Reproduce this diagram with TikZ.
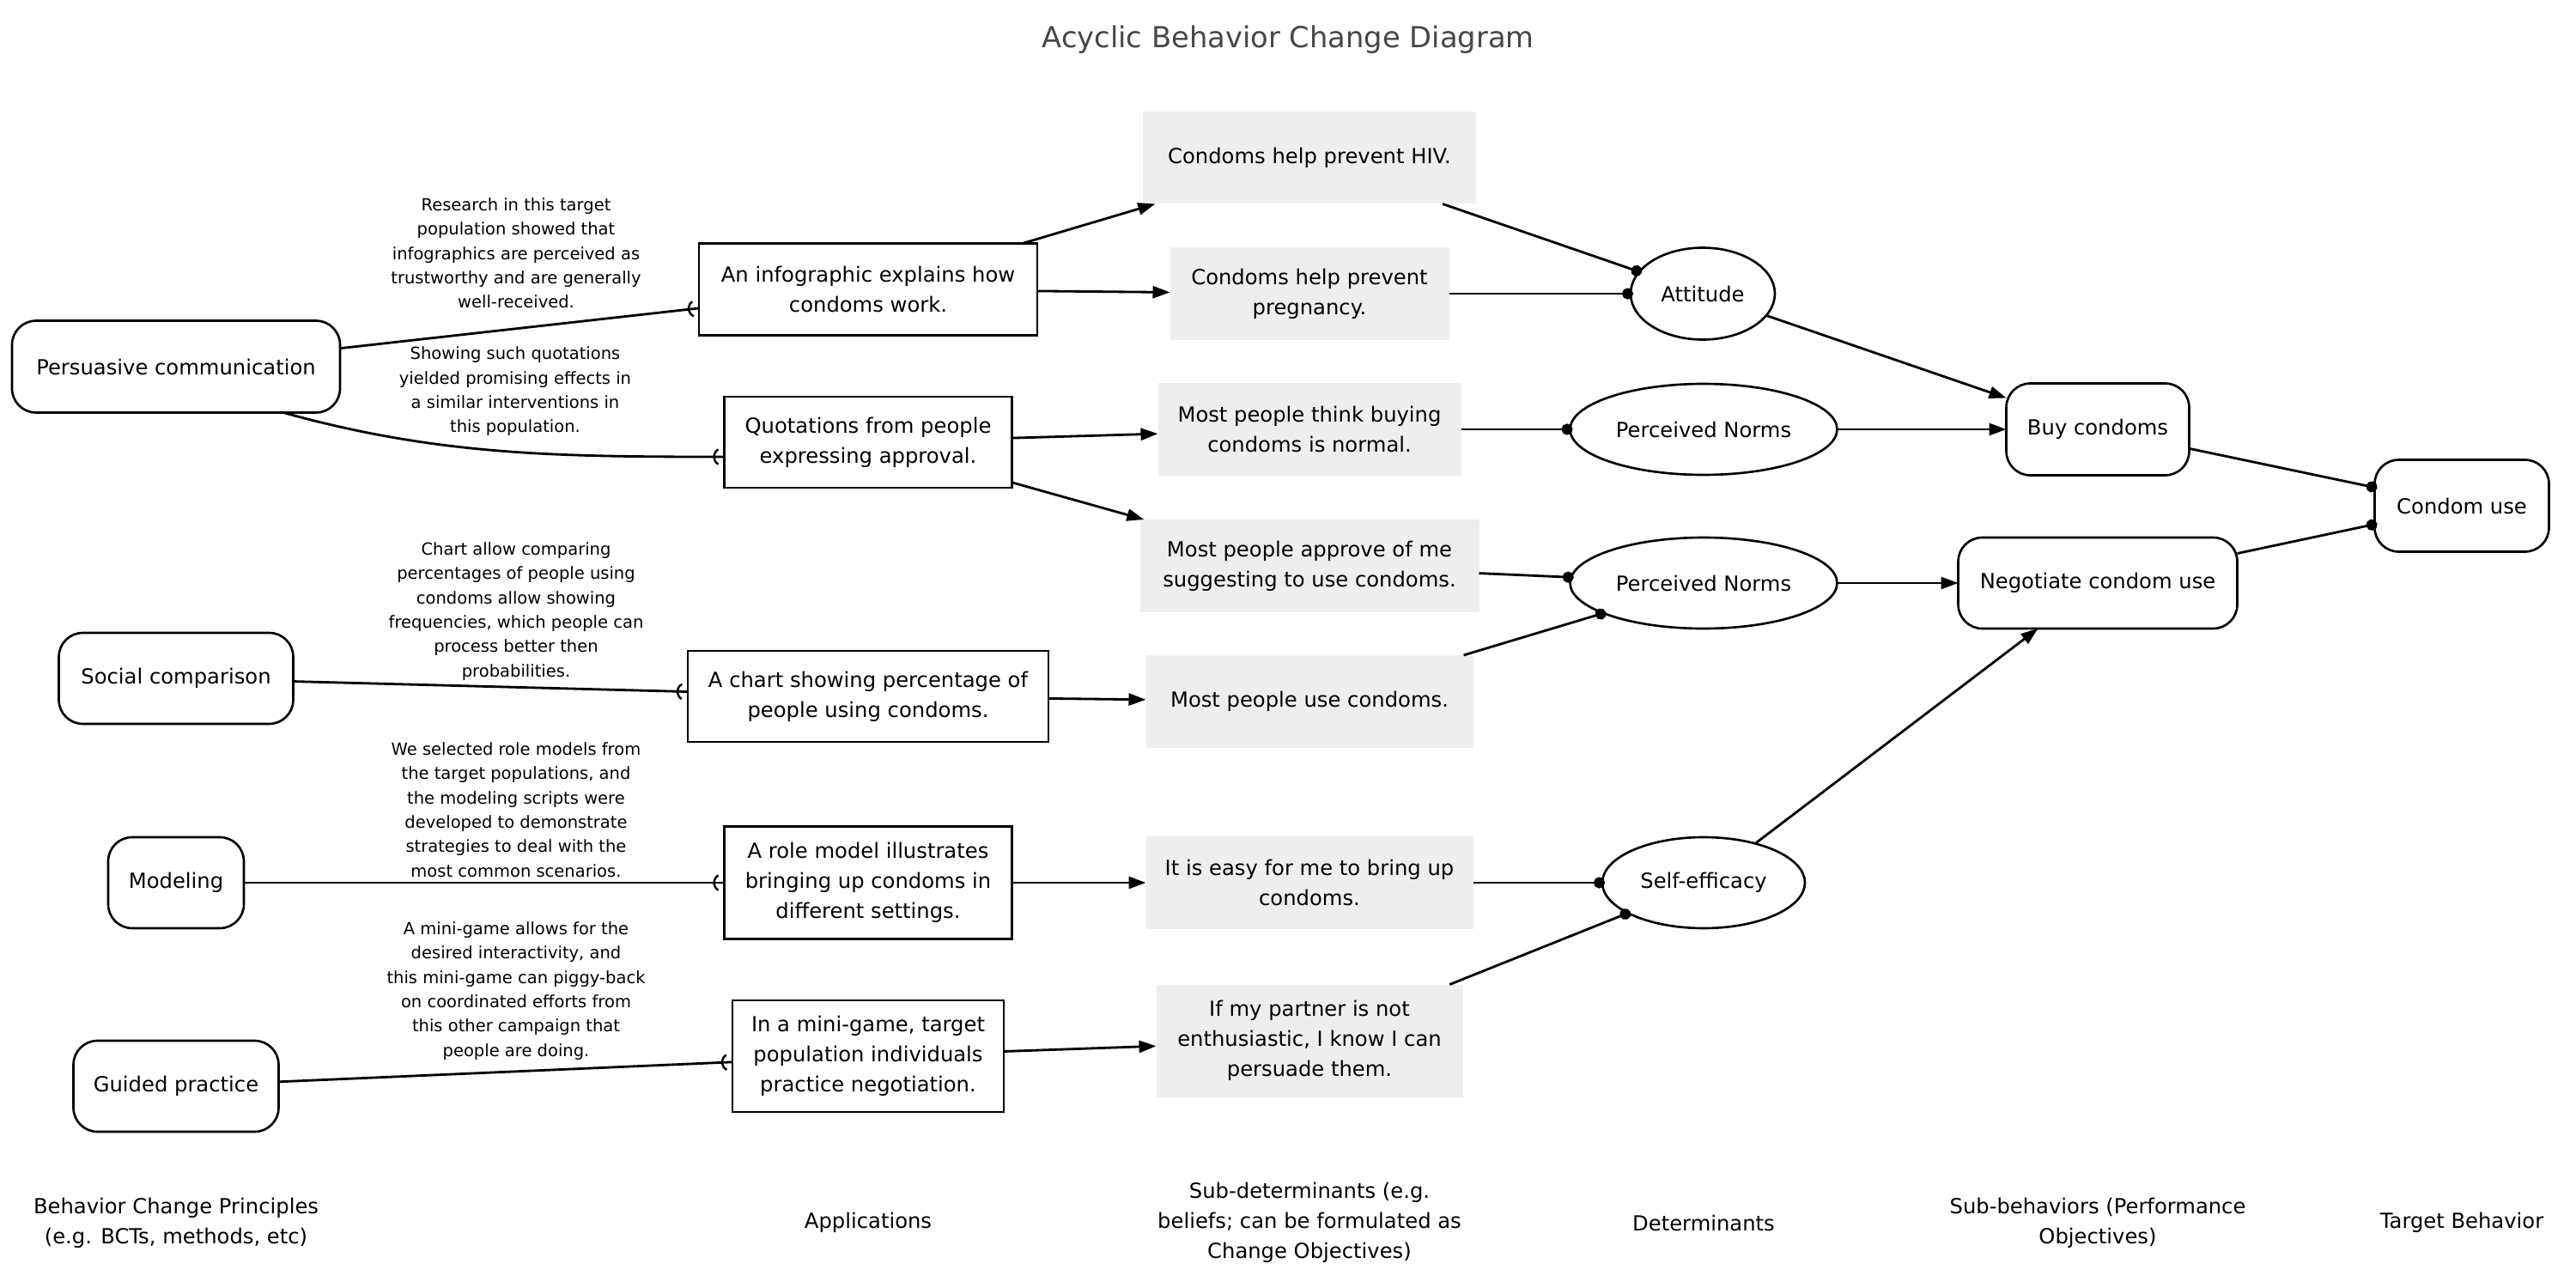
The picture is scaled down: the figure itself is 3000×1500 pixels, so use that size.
\documentclass[tikz,border=0pt]{standalone}
\usepackage{fontspec}
\setmainfont{DejaVu Sans}
\usetikzlibrary{arrows.meta,shapes.geometric,decorations.markings,calc}
\definecolor{subfill}{HTML}{EEEEEE}
\definecolor{titlegray}{HTML}{474747}
\newcommand\cbNodeFont{\fontsize{6.9pt}{9.96pt}\selectfont}
\newcommand\cbNoteFont{\fontsize{5.55pt}{8.05pt}\selectfont}
\newcommand\cbTitleFont{\fontsize{9.6pt}{11pt}\selectfont}
\begin{document}
\begin{tikzpicture}[x=0.1mm,y=-0.1mm,
  every node/.style={inner sep=0pt, outer sep=0pt, align=center, font=\cbNodeFont},
  principle/.style={draw, line width=0.75pt, rounded corners=2.8mm},
  appbox/.style={draw, line width=0.75pt, rectangle},
  subdet/.style={fill=subfill, rectangle},
  det/.style={ellipse, draw, line width=0.75pt},
  note/.style={font=\cbNoteFont},
  edge/.style={line width=0.8pt},
  arr/.style={edge, -{Triangle[length=2mm,width=1.4mm]}},
  dotend/.style={edge, -{Circle[length=1.3mm]}, shorten >=-0.3mm},
  curveend/.style={edge, decoration={markings, mark=at position -1mm with {\draw[line width=0.7pt] (0.3mm,0.866mm) arc[start angle=120,end angle=240,radius=1mm];}}, postaction={decorate}}
]
\fill[white] (0,0) rectangle (3000,1500);
\useasboundingbox (0,0) rectangle (3000,1500);

% title
\node[font=\cbTitleFont, text=titlegray, anchor=base] (title) at (1500,56) {Acyclic Behavior Change Diagram};

% behavior change principles
\node[principle, minimum width=38.2mm, minimum height=10.7mm] (pers) at (205,427) {Persuasive communication};
\node[principle, minimum width=27.3mm, minimum height=10.6mm] (soc) at (205,790) {Social comparison};
\node[principle, minimum width=15.8mm, minimum height=10.6mm] (mod) at (205,1028) {Modeling};
\node[principle, minimum width=23.9mm, minimum height=10.6mm] (gp) at (205,1265) {Guided practice};

% applications
\node[appbox, minimum width=39.4mm, minimum height=10.7mm] (info) at (1011,337) {An infographic explains how\\condoms work.};
\node[appbox, minimum width=33.5mm, minimum height=10.6mm] (quot) at (1011,515) {Quotations from people\\expressing approval.};
\node[appbox, minimum width=42.0mm, minimum height=10.6mm] (chart) at (1011,811) {A chart showing percentage of\\people using condoms.};
\node[appbox, minimum width=33.5mm, minimum height=13.1mm] (role) at (1011,1028) {A role model illustrates\\bringing up condoms in\\different settings.};
\node[appbox, minimum width=31.6mm, minimum height=13.0mm] (mini) at (1011,1230) {In a mini-game, target\\population individuals\\practice negotiation.};

% sub-determinants
\node[subdet, minimum width=38.8mm, minimum height=10.7mm] (hiv) at (1525,184) {Condoms help prevent HIV.};
\node[subdet, minimum width=32.5mm, minimum height=10.8mm] (preg) at (1525,342) {Condoms help prevent\\pregnancy.};
\node[subdet, minimum width=35.3mm, minimum height=10.8mm] (norm) at (1525,500) {Most people think buying\\condoms is normal.};
\node[subdet, minimum width=39.5mm, minimum height=10.8mm] (appr) at (1525,659) {Most people approve of me\\suggesting to use condoms.};
\node[subdet, minimum width=38.1mm, minimum height=10.8mm] (use) at (1525,817) {Most people use condoms.};
\node[subdet, minimum width=38.1mm, minimum height=10.8mm] (easy) at (1525,1028) {It is easy for me to bring up\\condoms.};
\node[subdet, minimum width=35.7mm, minimum height=13.1mm] (partner) at (1525,1212) {If my partner is not\\enthusiastic, I know I can\\persuade them.};

% determinants
\node[det, minimum width=16.8mm, minimum height=10.7mm] (att) at (1983,342) {Attitude};
\node[det, minimum width=31.1mm, minimum height=10.6mm] (pnA) at (1984,500) {Perceived Norms};
\node[det, minimum width=31.1mm, minimum height=10.6mm] (pnB) at (1984,679) {Perceived Norms};
\node[det, minimum width=23.6mm, minimum height=10.6mm] (se) at (1984,1028) {Self-efficacy};

% sub-behaviors
\node[principle, minimum width=21.3mm, minimum height=10.7mm] (buy) at (2443,500) {Buy condoms};
\node[principle, minimum width=32.5mm, minimum height=10.6mm] (neg) at (2443,679) {Negotiate condom use};

% target behavior
\node[principle, minimum width=20.3mm, minimum height=10.7mm] (cu) at (2867,589) {Condom use};

% edge notes
\node[note] (n1) at (601,295) {Research in this target\\population showed that\\infographics are perceived as\\trustworthy and are generally\\well-received.};
\node[note] (n2) at (600,456) {Showing such quotations\\yielded promising effects in\\a similar interventions in\\this population.};
\node[note] (n3) at (601,712) {Chart allow comparing\\percentages of people using\\condoms allow showing\\frequencies, which people can\\process better then\\probabilities.};
\node[note] (n4) at (601,943) {We selected role models from\\the target populations, and\\the modeling scripts were\\developed to demonstrate\\strategies to deal with the\\most common scenarios.};
\node[note] (n5) at (601,1154) {A mini-game allows for the\\desired interactivity, and\\this mini-game can piggy-back\\on coordinated efforts from\\this other campaign that\\people are doing.};

% column labels
\node (cA) at (205,1424) {Behavior Change Principles\\(e.g. BCTs, methods, etc)};
\node (cB) at (1011,1424) {Applications};
\node (cC) at (1525,1424) {Sub-determinants (e.g.\\beliefs; can be formulated as\\Change Objectives)};
\node (cD) at (1984,1424) {Determinants};
\node (cE) at (2443,1424) {Sub-behaviors (Performance\\Objectives)};
\node (cF) at (2867,1424) {Target Behavior};

% principles -> applications
\draw[curveend] (pers) -- (info);
\draw[curveend] ($(pers.south)+(125,0)$) .. controls +(180,50) and +(-195,0) .. ($(quot.west)+(0,17)$);
\draw[curveend] (soc) -- (chart);
\draw[curveend] (mod) -- (role);
\draw[curveend] (gp) -- (mini);

% applications -> sub-determinants
\draw[arr] (info) -- (hiv);
\draw[arr] (info) -- (preg);
\draw[arr] (quot) -- (norm);
\draw[arr] (quot) -- (appr);
\draw[arr] (chart) -- (use);
\draw[arr] (role) -- (easy);
\draw[arr] (mini) -- (partner);

% sub-determinants -> determinants
\draw[dotend] (hiv) -- (att);
\draw[dotend] (preg) -- (att);
\draw[dotend] (norm) -- (pnA);
\draw[dotend] (appr) -- (pnB);
\draw[dotend] (use) -- (pnB);
\draw[dotend] (easy) -- (se);
\draw[dotend] (partner) -- (se);

% determinants -> sub-behaviors
\draw[arr] (att) -- (buy);
\draw[arr] (pnA) -- (buy);
\draw[arr] (pnB) -- (neg);
\draw[arr] (se) -- (neg);

% sub-behaviors -> target
\draw[dotend] (buy) -- (cu);
\draw[dotend] (neg) -- (cu);
\end{tikzpicture}
\end{document}
